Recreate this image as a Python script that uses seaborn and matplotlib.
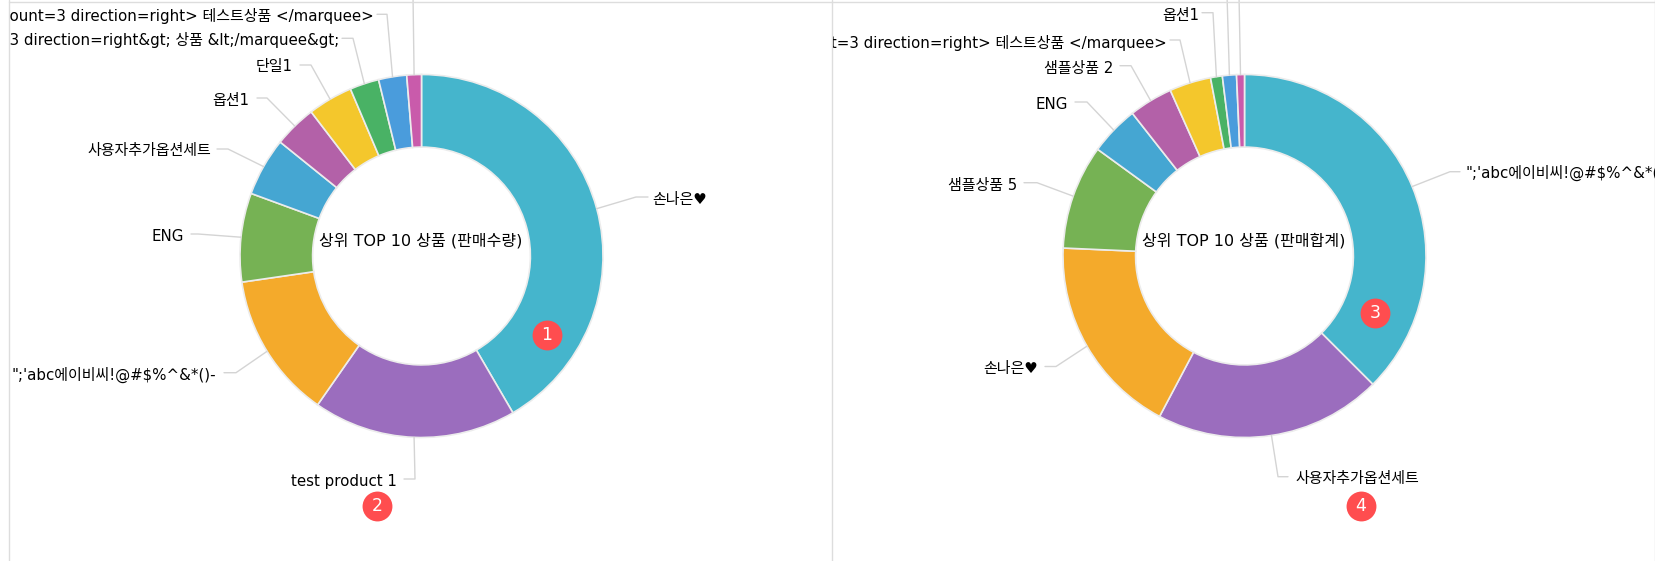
import matplotlib
matplotlib.use('Agg')
import matplotlib.pyplot as plt
from matplotlib.transforms import Bbox
import numpy as np
import seaborn as sns

# share of each slice (percent, clockwise from 12 o'clock)
qty_labels = ['손나은♥', 'test product 1', '";\'abc에이비씨!@#$%^&*()-', 'ENG', '사용자추가옵션세트', '옵션1', '단일1',
              '&lt;marquee scrollamount=3 direction=right&gt; 상품 &lt;/marquee&gt;',
              '<marquee scrollamount=3 direction=right> 테스트상품 </marquee>', '']
qty_values = [41.6, 18.1, 13.0, 7.9, 5.2, 3.8, 4.0, 2.6, 2.5, 1.3]

sum_labels = ['";\'abc에이비씨!@#$%^&*()-', '사용자추가옵션세트', '손나은♥', '샘플상품 5', 'ENG', '샘플상품 2',
              '<marquee scrollamount=3 direction=right> 테스트상품 </marquee>', '옵션1', '', '']
sum_values = [37.5, 20.25, 17.95, 9.3, 4.4, 3.9, 3.7, 1.05, 1.25, 0.7]

qty_title = '상위 TOP 10 상품 (판매수량)'
sum_title = '상위 TOP 10 상품 (판매합계)'
badge_text = ['1', '2', '3', '4']

colors = ['#45B5CC', '#9B6DBE', '#F4AA2B', '#76B254', '#45A6D2',
          '#B361A8', '#F4C72C', '#49B265', '#4A9CDC', '#C95BAB']

# layout, in pixels: elbow x, elbow/label y, line end x, label x, label y, side
qty_layout = [(636, 197, 648, 652, 199, 'left'), (415, 479, 404, 397, 481, 'right'),
              (236, 372.7, 224, 216, 375, 'right'), (198, 234, 191, 184, 236, 'right'),
              (228, 149, 217, 211, 150, 'right'), (267, 98, 257, 249, 100, 'right'),
              (311, 65, 300, 293, 66, 'right'), (353, 38.3, 342, 339, 40, 'right'),
              (387, 14.3, 377, 374, 16, 'right'), (413, -5, 413, 413, -8, 'right')]
sum_layout = [(1450, 171.7, 1460, 1466, 173, 'left'), (1278, 476.7, 1288, 1295, 478, 'left'),
              (1056, 366.5, 1045, 1038, 368, 'right'), (1037, 182.7, 1024, 1017, 185, 'right'),
              (1087, 102, 1075, 1068, 104, 'right'), (1131, 65.7, 1120, 1113, 68, 'right'),
              (1180, 40, 1170, 1167, 43, 'right'), (1213, 12.7, 1202, 1199, 15, 'right'),
              (1227, -5, 1227, 1227, -8, 'right'), (1239, -5, 1239, 1239, -8, 'right')]
badges = [(547, 335), (377, 506), (1375, 313), (1361, 506)]

W, H = 1656, 561
sns.set_theme(style='white')
plt.rcParams['font.family'] = ['DejaVu Sans', 'Noto Sans CJK KR']
font_size = 10.8
line_col = '#d4d4d4'

fig = plt.figure(figsize=(W / 100, H / 100), dpi=100, facecolor='white')
ax = fig.add_axes([0, 0, 1, 1])


def clipped_text(x, y, s, ha, box):
    t = ax.text(x, y, s, ha=ha, va='center', fontsize=font_size, color='black', parse_math=False, zorder=5)
    t.set_clip_box(Bbox([[box[0], 0], [box[1], H]]))
    t.set_clip_on(True)


def donut(values, labels, layout, title, cx, box):
    r = 181.5
    pal = sns.color_palette(colors)
    ax.pie(values, colors=pal, center=(cx, 256), radius=r, startangle=-90, counterclock=True,
           wedgeprops=dict(width=r * 0.4, edgecolor='#ececec', linewidth=1.2))
    mids = (np.cumsum(values) - np.array(values) / 2) / np.sum(values) * 2 * np.pi
    for m, s, (ex, ey, lx, tx, ty, ha) in zip(mids, labels, layout):
        sx, sy = cx + r * np.sin(m), 256 - r * np.cos(m)
        ax.plot([sx, ex, lx], [sy, ey, ey], color=line_col, lw=1, zorder=1)
        if s:
            clipped_text(tx, ty, s, ha, box)
    ax.text(cx - 1, 241, title, ha='center', va='center', fontsize=11.5, color='black')


donut(qty_values, qty_labels, qty_layout, qty_title, 421.5, (10, 832))
donut(sum_values, sum_labels, sum_layout, sum_title, 1244.5, (833, 1655))

# badges are markers so they stay round regardless of the limits
for (bx, by), s in zip(badges, badge_text):
    ax.plot(bx, by, 'o', ms=21.5, mfc='#FF4D4F', mec='none', zorder=6)
    ax.text(bx, by, s, color='white', ha='center', va='center', fontsize=12.5, zorder=7)

# panel frame
ax.plot([9.5, W], [1.5, 1.5], color='#dddddd', lw=1)
for x in [9.5, 832.5, 1655]:
    ax.plot([x, x], [0, H], color='#dddddd', lw=1)

ax.set_aspect('auto')
ax.set_xlim(0, W)
ax.set_ylim(H, 0)
ax.axis('off')
fig.savefig('out.png', dpi=100)
